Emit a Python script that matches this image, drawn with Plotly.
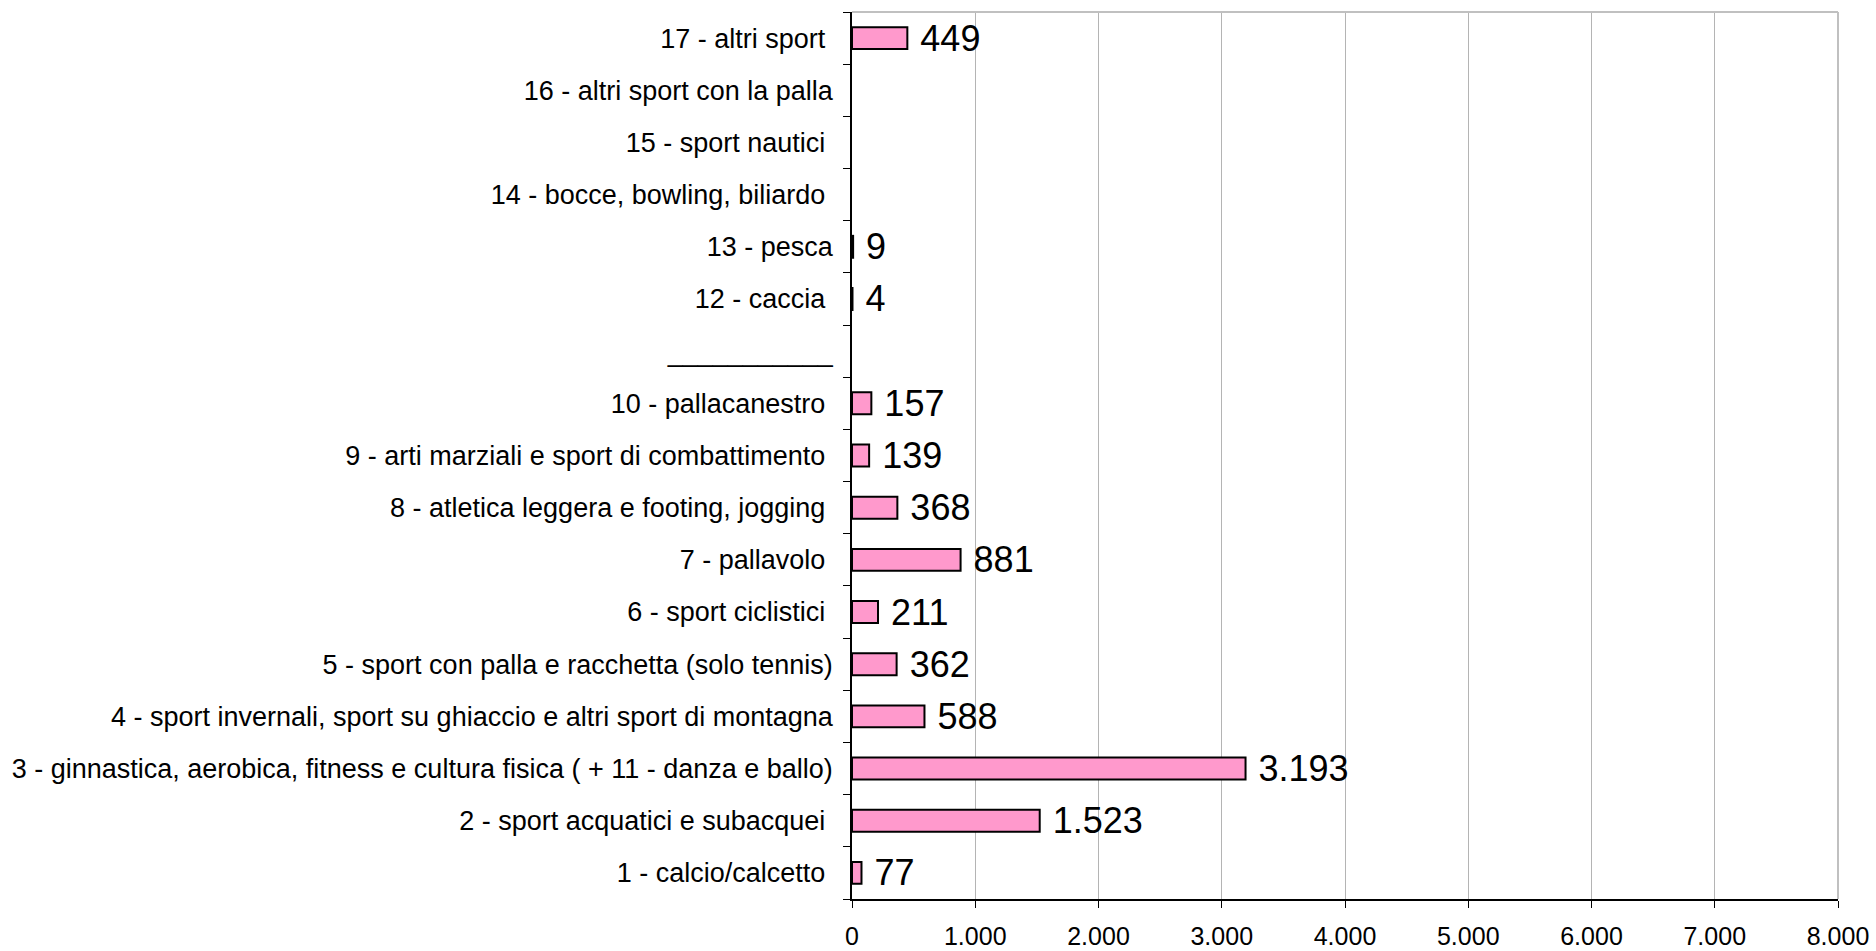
import plotly.graph_objects as go

categorie = [
    '1 - calcio/calcetto ',
    '2 - sport acquatici e subacquei ',
    '3 - ginnastica, aerobica, fitness e cultura fisica ( + 11 - danza e ballo)',
    '4 - sport invernali, sport su ghiaccio e altri sport di montagna',
    '5 - sport con palla e racchetta (solo tennis)',
    '6 - sport ciclistici ',
    '7 - pallavolo ',
    '8 - atletica leggera e footing, jogging ',
    '9 - arti marziali e sport di combattimento ',
    '10 - pallacanestro ',
    '___________',
    '12 - caccia ',
    '13 - pesca',
    '14 - bocce, bowling, biliardo ',
    '15 - sport nautici ',
    '16 - altri sport con la palla',
    '17 - altri sport ',
]
valori = [77, 1523, 3193, 588, 362, 211, 881, 368, 139, 157, None, 4, 9, None, None, None, 449]
tick_x = [0, 1000, 2000, 3000, 4000, 5000, 6000, 7000, 8000]

fig = go.Figure()
fig.add_trace(go.Bar(
    y=categorie, x=valori, orientation='h',
    marker=dict(color='#FF99CC', line=dict(color='black', width=2)),
    text=[None if v is None else ' ' + f"{v:,}".replace(',', '.') for v in valori],
    textposition='outside', cliponaxis=False, constraintext='none',
    textfont=dict(size=36, color='black', family='Liberation Sans, Arial'),
    width=0.42,
))

fig.update_layout(
    width=1876, height=951,
    margin=dict(l=852, r=38, t=12, b=52),
    plot_bgcolor='white', paper_bgcolor='white',
    separators=',.',
    showlegend=False,
    font=dict(family='Liberation Sans, Arial', color='black'),
    xaxis=dict(
        range=[0, 8000], tickvals=tick_x, tickformat=',d',
        showgrid=True, gridcolor='#B4B4B4', gridwidth=1,
        showline=True, linecolor='black', linewidth=1.5,
        ticks='outside', ticklen=7, tickcolor='black',
        tickfont=dict(size=25), zeroline=False,
        ticklabelstandoff=7, automargin=False,
    ),
    yaxis=dict(
        type='category', categoryorder='array', categoryarray=categorie,
        showline=True, linecolor='black', linewidth=1.5,
        ticks='outside', ticklen=7, tickcolor='black', tickson='boundaries',
        tickfont=dict(size=27), showgrid=False,
        ticklabelstandoff=12, automargin=False,
    ),
    shapes=[
        dict(type='line', xref='paper', yref='paper', x0=0, x1=1, y0=1, y1=1,
             line=dict(color='#C0C0C0', width=2)),
        dict(type='line', xref='paper', yref='paper', x0=1, x1=1, y0=0, y1=1,
             line=dict(color='#C0C0C0', width=2)),
    ],
)

# toglie il margine della pagina, cosi il grafico parte dall'angolo
fig.write_html("out.html", config={'displayModeBar': False},
               post_script="document.body.style.margin='0';document.body.style.overflow='hidden';")
